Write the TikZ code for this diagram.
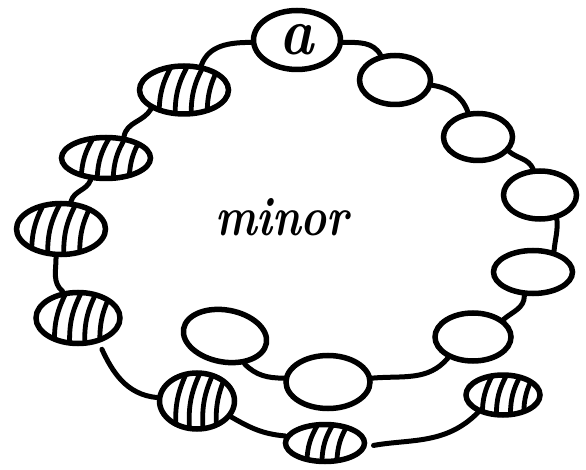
\documentclass[tikz,border=0pt]{standalone}
\usepackage{tikz}
\usetikzlibrary{shapes.geometric,calc}
\tikzset{
  bead/.style={ellipse,draw,line width=5.5pt,inner sep=0pt},
  striped/.style={bead,path picture={
    \foreach \f in {#1}
      \draw[line width=4.8pt,line cap=round]
        ($(path picture bounding box.south west)!\f!(path picture bounding box.south east)$)
        to[bend left=14]
        ($(path picture bounding box.north west)!{\f+0.14}!(path picture bounding box.north east)$);
  }},
  striped/.default={0.22,0.4,0.58,0.76},
  link/.style={line width=5pt,line cap=round},
}

\begin{document}
\begin{tikzpicture}[x=1pt,y=1pt]
\useasboundingbox (0,0) rectangle (586,-470);
% plain beads, top and right
\node[bead,minimum width=87pt,minimum height=59pt] (a) at (297,-40) {\scalebox{1}[1.15]{\fontsize{58}{60}\selectfont\bfseries\itshape a}};
\node[bead,minimum width=71pt,minimum height=49pt] (e1) at (395,-80) {};
\node[bead,minimum width=69pt,minimum height=47pt] (e2) at (478,-137) {};
\node[bead,minimum width=73pt,minimum height=48pt] (e3) at (540,-195) {};
\node[bead,minimum width=79pt,minimum height=43pt] (e4) at (533,-272) {};
\node[bead,minimum width=76pt,minimum height=48pt] (e5) at (473,-337) {};
\node[bead,minimum width=84pt,minimum height=53pt] (e6) at (328,-382) {};
\node[bead,minimum width=84pt,minimum height=52pt,rotate=-10] (e7) at (225,-336) {};
% striped beads, left and bottom
\node[striped,minimum width=89pt,minimum height=48pt] (h1) at (184,-90) {};
\node[striped,minimum width=89pt,minimum height=41pt] (h2) at (106,-158) {};
\node[striped={0.17,0.35,0.53,0.71},minimum width=89pt,minimum height=51pt] (h3) at (61,-229) {};
\node[striped,minimum width=84pt,minimum height=51pt] (h4) at (78,-318) {};
\node[striped,minimum width=75pt,minimum height=56pt] (h5) at (197,-401) {};
\node[striped={0.27,0.46,0.65},minimum width=79pt,minimum height=37pt] (h6) at (325,-443) {};
\node[striped={0.22,0.41,0.6,0.78},minimum width=74pt,minimum height=40pt] (h7) at (503,-395) {};
\node (minortext) at (282,-217) {\scalebox{1}[1.25]{\fontsize{44}{48}\selectfont\bfseries\itshape minor}};
% the string
\draw[link] (h1.55) to[out=70,in=180] (a.183);
\draw[link] (a.-3) to[out=0,in=120] (e1.120);
\draw[link] (e1.-8) to[out=-10,in=110] (e2.112);
\draw[link] (e2.-25) to[out=-40,in=115] (e3.105);
\draw[link] (e3.-55) to[out=-85,in=85] (e4.45);
\draw[link] (e4.-110) to[out=-90,in=40] (e5.30);
\draw[link] (e5.-140) to[out=-130,in=5] (e6.5);
\draw[link] (e7.-45) to[out=-45,in=180] (e6.175);
\draw[link] (h1.-150) to[out=-120,in=80] (h2.50);
\draw[link] (h2.-125) to[out=-110,in=75] (h3.70);
\draw[link] (h3.-100) to[out=-90,in=140] (h4.120);
\draw[link,shorten <=7pt] (h4.-50) to[out=-65,in=175] (h5.175);
\draw[link] (h5.-25) to[out=-30,in=175] (h6.170);
\draw[link,shorten <=7pt] (h6.-5) to[out=10,in=-135] (h7.-145);
\end{tikzpicture}
\end{document}
